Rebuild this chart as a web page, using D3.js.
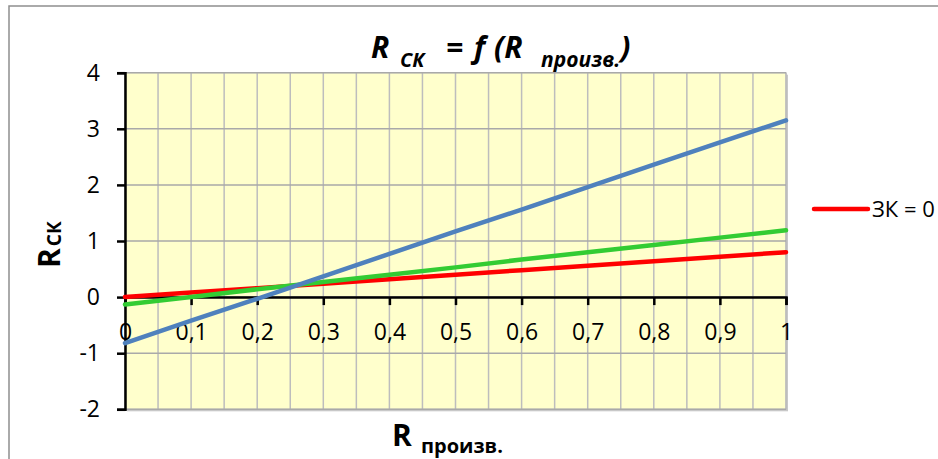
<!DOCTYPE html>
<html><head><meta charset="utf-8">
<script src="https://cdn.jsdelivr.net/npm/d3@7"></script>
<style>
html,body{margin:0;padding:0;background:#fff;}
svg{display:block;font-family:"Open Sans","Noto Sans",sans-serif;}
</style></head>
<body><svg id="c" width="938" height="459"></svg>
<script>
const xValues = [0, 0.1, 0.2, 0.3, 0.4, 0.5, 0.6, 0.7, 0.8, 0.9, 1];
const redValues   = [0, 0.08, 0.16, 0.24, 0.32, 0.40, 0.48, 0.56, 0.64, 0.72, 0.80];
const greenValues = [-0.13, 0.00, 0.14, 0.27, 0.40, 0.53, 0.67, 0.80, 0.93, 1.06, 1.19];
const blueValues  = [-0.82, -0.42, -0.03, 0.37, 0.77, 1.17, 1.56, 1.96, 2.36, 2.76, 3.15];
const xTicks = [0, 0.1, 0.2, 0.3, 0.4, 0.5, 0.6, 0.7, 0.8, 0.9, 1];
const xGrid = d3.range(0, 21).map(i => i / 20);
const yTicks = [-2, -1, 0, 1, 2, 3, 4];
const legendLabel = "ЗК = 0";

const svg = d3.select("#c");
const x = d3.scaleLinear().domain([0, 1]).range([125, 786]);
const y = d3.scaleLinear().domain([-2, 4]).range([409.3, 72.7]);
const FONT = "'Open Sans', 'Noto Sans', sans-serif";

// chart border
svg.append("rect").attr("x", 9).attr("y", 6).attr("width", 960).attr("height", 480)
  .attr("fill", "#fff").attr("stroke", "#8e8e8e").attr("stroke-width", 1.5);

// plot area shadow + fill
svg.append("rect").attr("x", x(0) + 2).attr("y", y(4) + 2).attr("width", x(1) - x(0)).attr("height", y(-2) - y(4))
  .attr("fill", "#c8c8c8");
svg.append("rect").attr("x", x(0)).attr("y", y(4)).attr("width", x(1) - x(0)).attr("height", y(-2) - y(4))
  .attr("fill", "#FFFFCC").attr("stroke", "#b8b8b8").attr("stroke-width", 1);

// grid
svg.append("g").selectAll("line").data(xGrid).join("line")
  .attr("x1", d => x(d)).attr("x2", d => x(d)).attr("y1", y(4)).attr("y2", y(-2))
  .attr("stroke", "#bdbdbd").attr("stroke-width", 1.5);
svg.append("g").selectAll("line").data(yTicks).join("line")
  .attr("x1", x(0)).attr("x2", x(1)).attr("y1", d => y(d)).attr("y2", d => y(d))
  .attr("stroke", "#a9a9a9").attr("stroke-width", 1.5);

// y axis
const yAxis = svg.append("g").attr("transform", `translate(${x(0)},0)`)
  .call(d3.axisLeft(y).tickValues(yTicks).tickSize(8).tickPadding(17).tickFormat(d => String(d)));
yAxis.select(".domain").attr("stroke", "#000").attr("stroke-width", 2.5);
yAxis.selectAll(".tick line").attr("stroke", "#000").attr("stroke-width", 2.5);
yAxis.selectAll(".tick text").attr("font-size", 23).attr("fill", "#000").attr("font-family", FONT);

// x axis at y=0
const xAxis = svg.append("g").attr("transform", `translate(0,${y(0)})`)
  .call(d3.axisBottom(x).tickValues(xTicks).tickSize(8).tickPadding(19).tickFormat(d => String(d).replace(".", ",")));
xAxis.select(".domain").attr("stroke", "#000").attr("stroke-width", 2.5);
xAxis.selectAll(".tick line").attr("stroke", "#000").attr("stroke-width", 2.5);
xAxis.selectAll(".tick text").attr("font-size", 23).attr("fill", "#000").attr("font-family", FONT);

// series
const line = d3.line().x((d, i) => x(xValues[i])).y(d => y(d));
[["#ff0000", redValues], ["#33cc33", greenValues], ["#4f81bd", blueValues]].forEach(([col, vals]) => {
  svg.append("path").datum(vals).attr("d", line).attr("fill", "none")
    .attr("stroke", col).attr("stroke-width", 4.5).attr("stroke-linecap", "round").attr("stroke-linejoin", "round");
});

// title
const title = svg.append("text").attr("y", 58).attr("font-weight", "bold").attr("font-style", "italic").attr("fill", "#000").attr("font-family", FONT);
title.append("tspan").attr("x", 371).attr("font-size", 30).text("R");
title.append("tspan").attr("x", 400).attr("y", 67).attr("font-size", 20).text("СК");
title.append("tspan").attr("x", 446).attr("y", 58).attr("font-size", 30).text("=");
title.append("tspan").attr("x", 474).attr("y", 58).attr("font-size", 30).text("f");
title.append("tspan").attr("x", 494).attr("y", 58).attr("font-size", 30).text("(R");
title.append("tspan").attr("x", 541).attr("y", 67).attr("font-size", 21).text("произв.");
title.append("tspan").attr("y", 58).attr("font-size", 30).text(")");

// x axis title
const xt = svg.append("text").attr("y", 446).attr("font-weight", "bold").attr("fill", "#000").attr("font-family", FONT);
xt.append("tspan").attr("x", 392).attr("font-size", 30).text("R");
xt.append("tspan").attr("x", 421).attr("y", 453).attr("font-size", 20).text("произв.");

// y axis title
const yt = svg.append("text").attr("transform", "translate(60,268) rotate(-90)").attr("font-weight", "bold").attr("fill", "#000").attr("font-family", FONT);
yt.append("tspan").attr("font-size", 30).text("R");
yt.append("tspan").attr("dx", 2).attr("dy", 1).attr("font-size", 19).text("СК");

// legend
svg.append("line").attr("x1", 814).attr("x2", 868).attr("y1", 209).attr("y2", 209)
  .attr("stroke", "#ff0000").attr("stroke-width", 4.5).attr("stroke-linecap", "round");
svg.append("text").attr("x", 872).attr("y", 217).attr("font-size", 22).attr("fill", "#000").attr("font-family", FONT).text(legendLabel);
</script></body></html>
